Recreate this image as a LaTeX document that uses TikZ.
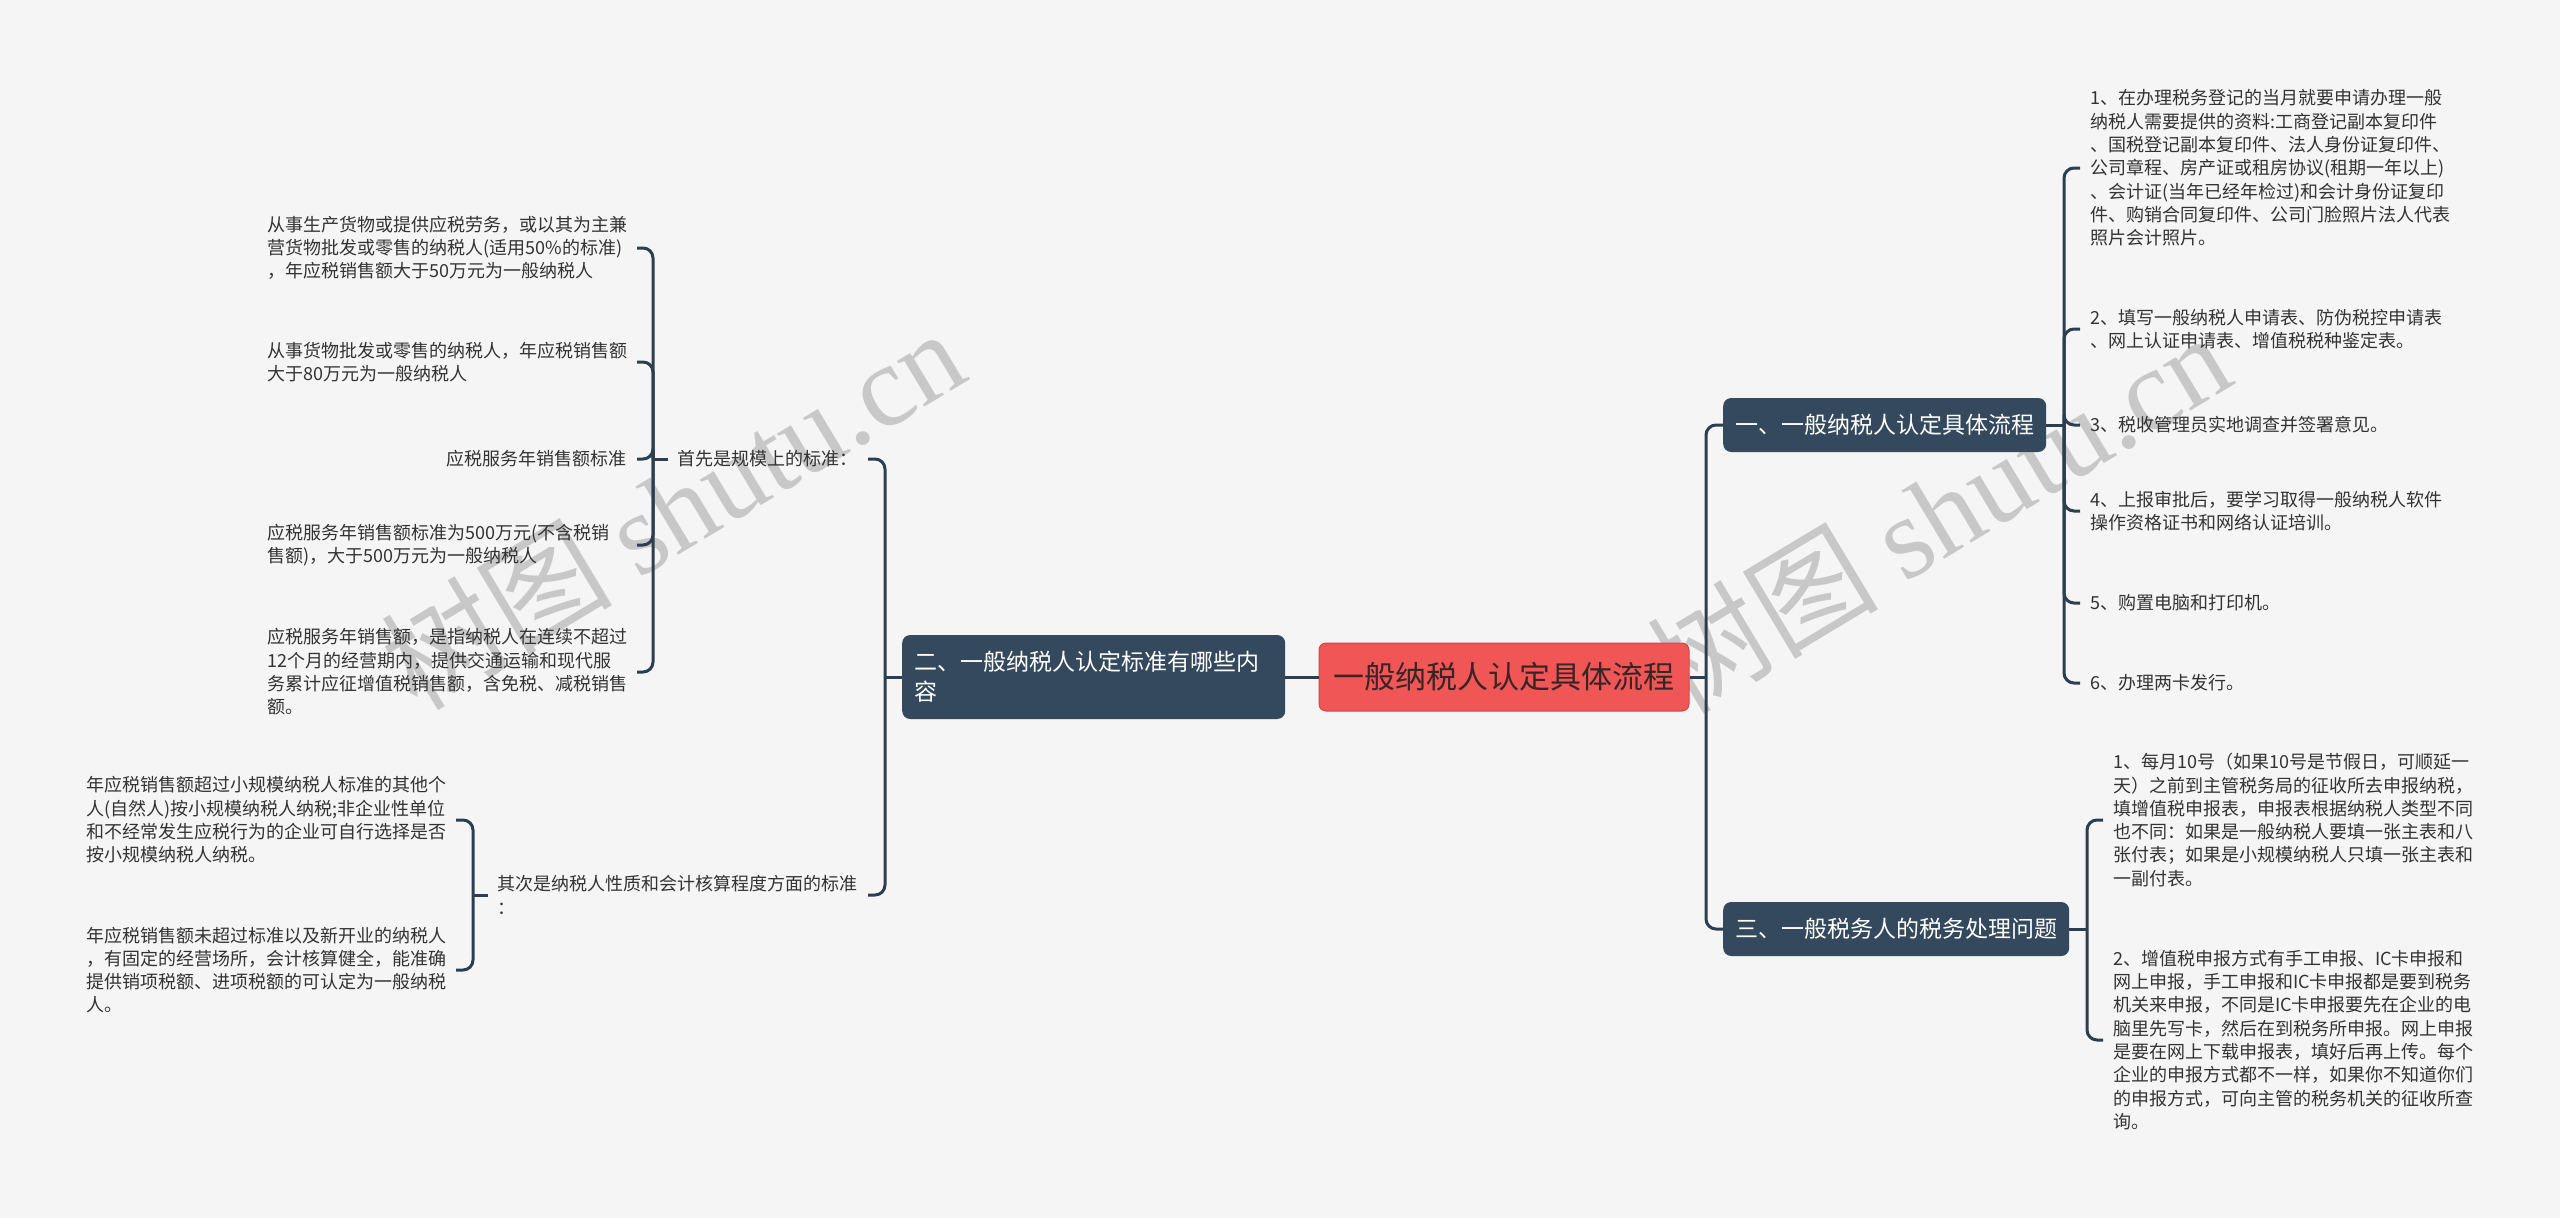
\documentclass[tikz,border=0pt]{standalone}
\usepackage{fontspec}
\usepackage{xcolor}
\usepackage{tikz}
\newfontfamily\cjk{Noto Sans CJK SC}
\newfontfamily\wmserif{Liberation Serif}
\definecolor{paper}{HTML}{F5F5F5}
\definecolor{navy}{HTML}{34495E}
\definecolor{wire}{HTML}{2C3E50}
\definecolor{rootred}{HTML}{F05656}
\definecolor{rootink}{HTML}{3A2424}
\definecolor{ink}{HTML}{333333}
\definecolor{mark}{HTML}{C8C8C8}
\tikzset{
  link/.style={draw=wire,line width=3pt,rounded corners=10pt},
  leaf/.style={font=\cjk\fontsize{18}{23.3}\selectfont,text=ink,align=left,inner xsep=10pt,inner ysep=0pt},
  wide/.style={text width=359pt},
  branch/.style={fill=navy,text=white,rounded corners=8pt,font=\cjk\fontsize{23}{30}\selectfont,
    inner xsep=12pt,minimum height=54pt,align=left},
  rootbox/.style={fill=rootred,draw=rootred!85!black,line width=1pt,rounded corners=7pt,text=rootink,
    font=\cjk\fontsize{31}{36}\selectfont,minimum width=370pt,minimum height=68pt},
  wmark/.style={text=mark,rotate=31,font=\fontsize{116}{120}\selectfont}
}
\begin{document}
\begin{tikzpicture}[x=1pt,y=-1pt]
\useasboundingbox (0,0) rectangle (2560,1218);
\fill[paper] (0,0) rectangle (2560,1218);
% watermarks
\node[wmark] (wm1) at (672,508) {\cjk 树图 \wmserif shutu.cn};
\node[wmark] (wm2) at (1938,512) {\cjk 树图 \wmserif shutu.cn};

% centre and branches
\node[rootbox] (root) at (1504,677) {一般纳税人认定具体流程};
\node[branch,anchor=west,text width=359pt,minimum height=84pt] (br2) at (902,677)
  {二、一般纳税人认定标准有哪些内\\容};
\node[branch,anchor=west] (br1) at (1723,425) {一、一般纳税人认定具体流程};
\node[branch,anchor=west] (br3) at (1723,929) {三、一般税务人的税务处理问题};

% branch one
\node[leaf,anchor=west] (a1) at (2080,168) {1、在办理税务登记的当月就要申请办理一般\\
  纳税人需要提供的资料:工商登记副本复印件\\
  、国税登记副本复印件、法人身份证复印件、\\
  公司章程、房产证或租房协议(租期一年以上)\\
  、会计证(当年已经年检过)和会计身份证复印\\
  件、购销合同复印件、公司门脸照片法人代表\\
  照片会计照片。};
\node[leaf,anchor=west] (a2) at (2080,329) {2、填写一般纳税人申请表、防伪税控申请表\\
  、网上认证申请表、增值税税种鉴定表。};
\node[leaf,anchor=west] (a3) at (2080,425) {3、税收管理员实地调查并签署意见。};
\node[leaf,anchor=west] (a4) at (2080,511) {4、上报审批后，要学习取得一般纳税人软件\\
  操作资格证书和网络认证培训。};
\node[leaf,anchor=west] (a5) at (2080,603) {5、购置电脑和打印机。};
\node[leaf,anchor=west] (a6) at (2080,683) {6、办理两卡发行。};

% branch three
\node[leaf,anchor=west] (b1) at (2103,820) {1、每月10号（如果10号是节假日，可顺延一\\
  天）之前到主管税务局的征收所去申报纳税，\\
  填增值税申报表，申报表根据纳税人类型不同\\
  也不同：如果是一般纳税人要填一张主表和八\\
  张付表；如果是小规模纳税人只填一张主表和\\
  一副付表。};
\node[leaf,anchor=west] (b2) at (2103,1040) {2、增值税申报方式有手工申报、IC卡申报和\\
  网上申报，手工申报和IC卡申报都是要到税务\\
  机关来申报，不同是IC卡申报要先在企业的电\\
  脑里先写卡，然后在到税务所申报。网上申报\\
  是要在网上下载申报表，填好后再上传。每个\\
  企业的申报方式都不一样，如果你不知道你们\\
  的申报方式，可向主管的税务机关的征收所查\\
  询。};

% branch two
\node[leaf,anchor=east] (s1) at (868,459) {首先是规模上的标准：};
\node[leaf,anchor=east] (s2) at (868,895) {其次是纳税人性质和会计核算程度方面的标准\\：};

\node[leaf,wide,anchor=east] (c1) at (637,248) {从事生产货物或提供应税劳务，或以其为主兼\\
  营货物批发或零售的纳税人(适用50\%的标准)\\
  ，年应税销售额大于50万元为一般纳税人};
\node[leaf,wide,anchor=east] (c2) at (637,362) {从事货物批发或零售的纳税人，年应税销售额\\
  大于80万元为一般纳税人};
\node[leaf,anchor=east] (c3) at (637,459) {应税服务年销售额标准};
\node[leaf,wide,anchor=east] (c4) at (637,545) {应税服务年销售额标准为500万元(不含税销\\
  售额)，大于500万元为一般纳税人};
\node[leaf,wide,anchor=east] (c5) at (637,672) {应税服务年销售额，是指纳税人在连续不超过\\
  12个月的经营期内，提供交通运输和现代服\\
  务累计应征增值税销售额，含免税、减税销售\\
  额。};

\node[leaf,wide,anchor=east] (d1) at (456,820) {年应税销售额超过小规模纳税人标准的其他个\\
  人(自然人)按小规模纳税人纳税;非企业性单位\\
  和不经常发生应税行为的企业可自行选择是否\\
  按小规模纳税人纳税。};
\node[leaf,wide,anchor=east] (d2) at (456,970) {年应税销售额未超过标准以及新开业的纳税人\\
  ，有固定的经营场所，会计核算健全，能准确\\
  提供销项税额、进项税额的可认定为一般纳税\\
  人。};

% connectors
\coordinate (rt) at (1706,677);
\coordinate (t1) at (2064,425);
\coordinate (t3) at (2087,929);
\coordinate (t2) at (885,677);
\coordinate (ts1) at (653,459);
\coordinate (ts2) at (473,895);

\draw[link] (root.west) -- (br2.east);
\draw[link] (root.east) -- (rt);
\draw[link] (rt) |- (br1.west);
\draw[link] (rt) |- (br3.west);

\draw[link] (br1.east) -- (t1);
\foreach \i in {1,...,6}
  \draw[link] (t1) |- (a\i.west);
\draw[link] (br3.east) -- (t3);
\foreach \i in {1,2}
  \draw[link] (t3) |- (b\i.west);

\draw[link] (br2.west) -- (t2);
\draw[link] (t2) |- (s1.east);
\draw[link] (t2) |- (s2.east);
\draw[link] (s1.west) -- (ts1);
\foreach \i in {1,...,5}
  \draw[link] (ts1) |- (c\i.east);
\draw[link] (s2.west) -- (ts2);
\foreach \i in {1,2}
  \draw[link] (ts2) |- (d\i.east);
\end{tikzpicture}
\end{document}
